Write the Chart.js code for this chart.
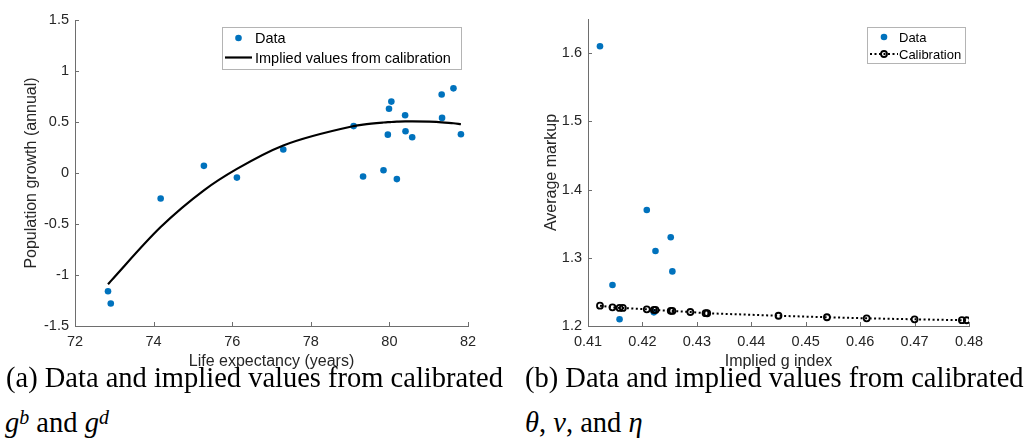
<!DOCTYPE html>
<html>
<head>
<meta charset="utf-8">
<script src="https://cdn.jsdelivr.net/npm/chart.js@4.4.1/dist/chart.umd.min.js"></script>
<style>
  html, body { margin: 0; padding: 0; background: #fff; }
  body { width: 1036px; height: 441px; position: relative; overflow: hidden; }
  canvas { position: absolute; top: 0; }
  #chartA { left: 0; }
  #chartB { left: 505px; }
  .cap {
    position: absolute;
    font-family: "Liberation Serif", "Times New Roman", serif;
    font-size: 28.5px;
    line-height: 28.5px;
    color: #000;
    white-space: nowrap;
  }
  .cap i { font-style: italic; }
  .cap .sup { position: relative; top: -0.42em; font-size: 0.7em; font-style: italic; }
</style>
</head>
<body>
<canvas id="chartA" width="505" height="372"></canvas>
<canvas id="chartB" width="531" height="372"></canvas>

<div class="cap" style="left:6px; top:364px;">(a) Data and implied values from calibrated</div>
<div class="cap" style="left:5px; top:409px;"><i>g</i><span class="sup">b</span> and <i>g</i><span class="sup">d</span></div>
<div class="cap" style="left:525px; top:364px;">(b) Data and implied values from calibrated</div>
<div class="cap" style="left:525px; top:409px;"><i>θ</i>, <i>ν</i>, and <i>η</i></div>

<script>
// =================== DATA: panel (a) ===================
const lifeExpectancy = [72.84, 72.91, 74.18, 75.28, 76.12, 77.30, 79.09, 79.33, 79.85, 79.96,
                        79.99, 80.05, 80.19, 80.40, 80.41, 80.58, 81.33, 81.34, 81.63, 81.82];
const popGrowth      = [-1.16, -1.28, -0.25, 0.07, -0.045, 0.23, 0.46, -0.035, 0.027, 0.376,
                        0.63, 0.70, -0.06, 0.566, 0.41, 0.35, 0.77, 0.54, 0.83, 0.38];
// implied values from calibration, read at the same life expectancies
const popGrowthImplied = [-1.09, -1.06, -0.53, -0.17, 0.04, 0.27, 0.46, 0.475, 0.495, 0.498,
                          0.499, 0.50, 0.503, 0.506, 0.506, 0.507, 0.497, 0.496, 0.488, 0.478];
const xTicksA = [72, 74, 76, 78, 80, 82];
const yTicksA = [-1.5, -1, -0.5, 0, 0.5, 1, 1.5];

// =================== DATA: panel (b) ===================
const gIndexData = [0.4122, 0.4145, 0.4158, 0.4208, 0.4221, 0.4224, 0.4252, 0.4255];
const markupData = [1.61, 1.26, 1.21, 1.37, 1.22, 1.31, 1.33, 1.28];
const gIndexCalib = [0.4122, 0.4145, 0.4158, 0.4164, 0.4208, 0.4221, 0.4224, 0.4252, 0.4255,
                     0.4288, 0.4316, 0.4319, 0.4450, 0.4539, 0.4612, 0.4700, 0.4787, 0.4796];
const markupCalib = [1.2298, 1.2274, 1.2265, 1.2265, 1.2245, 1.2236, 1.2235, 1.2222, 1.2221,
                     1.2205, 1.2188, 1.2187, 1.2150, 1.2128, 1.2113, 1.2098, 1.2085, 1.2084];
const xTicksB = [0.41, 0.42, 0.43, 0.44, 0.45, 0.46, 0.47, 0.48];
const yTicksB = [1.2, 1.3, 1.4, 1.5, 1.6];

// =================== STYLE ===================
const BLUE = '#0072BD';
const TEXT = '#262626';
const AXIS_LINE = '#6e6e6e';
const SANS = '"Liberation Sans", Arial, sans-serif';
const TICK_FONT = { family: SANS, size: 14.5 };
const TITLE_FONT = { family: SANS, size: 16 };

const toPoints = (xs, ys) => xs.map((x, i) => ({ x, y: ys[i] }));

function linearAxis(isX, ticks, min, max, title, fitSize, titlePad) {
  return {
    type: 'linear',
    position: isX ? 'bottom' : 'left',
    min, max,
    afterBuildTicks: s => { s.ticks = ticks.map(v => ({ value: v })); },
    afterFit: s => { if (isX) s.height = fitSize; else s.width = fitSize; },
    grid: { display: true, drawOnChartArea: false, drawTicks: false },
    border: { display: true, color: AXIS_LINE, width: 1 },
    ticks: {
      color: TEXT, font: TICK_FONT, padding: isX ? 7 : 6,
      autoSkip: false, maxRotation: 0, callback: v => String(v)
    },
    title: {
      display: true, text: title, color: TEXT, font: TITLE_FONT,
      padding: isX ? { top: 0, bottom: titlePad } : { top: titlePad, bottom: 0 }
    }
  };
}

// MATLAB-style ticks pointing into the plot
const inwardTicks = {
  id: 'inwardTicks',
  beforeDatasetsDraw(chart) {
    const { ctx, chartArea, scales: { x, y } } = chart;
    const len = 4;
    ctx.save();
    ctx.strokeStyle = AXIS_LINE;
    ctx.lineWidth = 1;
    ctx.beginPath();
    x.ticks.forEach(t => {
      const px = Math.round(x.getPixelForValue(t.value)) + 0.5;
      ctx.moveTo(px, chartArea.bottom);
      ctx.lineTo(px, chartArea.bottom - len);
    });
    y.ticks.forEach(t => {
      const py = Math.round(y.getPixelForValue(t.value)) + 0.5;
      ctx.moveTo(chartArea.left, py);
      ctx.lineTo(chartArea.left + len, py);
    });
    ctx.stroke();
    ctx.restore();
  }
};

// boxed legend inside the axes
const boxLegend = {
  id: 'boxLegend',
  afterDraw(chart, args, o) {
    const ctx = chart.ctx;
    ctx.save();
    ctx.fillStyle = '#fff';
    ctx.fillRect(o.left, o.top, o.width, o.height);
    ctx.strokeStyle = '#b4b4b4';
    ctx.lineWidth = 1;
    ctx.strokeRect(o.left + 0.5, o.top + 0.5, o.width, o.height);
    ctx.font = `${o.fontSize}px ${SANS}`;
    ctx.textBaseline = 'middle';
    o.rows.forEach(r => {
      const ds = chart.data.datasets[r.dataset];
      const cx = (o.sampleX0 + o.sampleX1) / 2;
      if (ds.showLine) {
        ctx.strokeStyle = ds.borderColor;
        ctx.lineWidth = ds.borderWidth;
        ctx.setLineDash(ds.borderDash || []);
        ctx.beginPath();
        ctx.moveTo(o.sampleX0, r.y);
        ctx.lineTo(o.sampleX1, r.y);
        ctx.stroke();
        ctx.setLineDash([]);
      }
      if (ds.pointRadius > 0) {
        ctx.beginPath();
        ctx.arc(cx, r.y, ds.pointRadius, 0, Math.PI * 2);
        if (ds.pointBackgroundColor && ds.pointBackgroundColor !== 'transparent') {
          ctx.fillStyle = ds.pointBackgroundColor;
          ctx.fill();
        }
        if (ds.pointBorderWidth > 0) {
          ctx.strokeStyle = ds.pointBorderColor;
          ctx.lineWidth = ds.pointBorderWidth;
          ctx.stroke();
        }
      }
      ctx.fillStyle = '#000';
      ctx.fillText(ds.label, o.textX, r.y + 1);
    });
    ctx.restore();
  }
};

// =================== PANEL (a) ===================
new Chart(document.getElementById('chartA'), {
  type: 'scatter',
  data: {
    datasets: [
      {
        label: 'Data',
        data: toPoints(lifeExpectancy, popGrowth),
        showLine: false,
        pointRadius: 3.3,
        pointBackgroundColor: BLUE,
        pointBorderWidth: 0,
        order: 2
      },
      {
        label: 'Implied values from calibration',
        data: toPoints(lifeExpectancy, popGrowthImplied),
        showLine: true,
        borderColor: '#000',
        borderWidth: 2.2,
        cubicInterpolationMode: 'monotone',
        pointRadius: 0,
        order: 1
      }
    ]
  },
  options: {
    responsive: false,
    animation: false,
    layout: { padding: { top: 20, right: 37, left: 0, bottom: 0 } },
    scales: {
      x: linearAxis(true, xTicksA, 72, 82, 'Life expectancy (years)', 46, 1),
      y: linearAxis(false, yTicksA, -1.5, 1.5, 'Population growth (annual)', 75, 22)
    },
    plugins: {
      legend: { display: false },
      tooltip: { enabled: false },
      boxLegend: {
        left: 222, top: 27, width: 239, height: 42, fontSize: 14.5,
        sampleX0: 225, sampleX1: 252, textX: 255,
        rows: [{ dataset: 0, y: 38 }, { dataset: 1, y: 57.5 }]
      }
    }
  },
  plugins: [inwardTicks, boxLegend]
});

// =================== PANEL (b) ===================
new Chart(document.getElementById('chartB'), {
  type: 'scatter',
  data: {
    datasets: [
      {
        label: 'Data',
        data: toPoints(gIndexData, markupData),
        showLine: false,
        pointRadius: 3.3,
        pointBackgroundColor: BLUE,
        pointBorderWidth: 0,
        order: 2
      },
      {
        label: 'Calibration',
        data: toPoints(gIndexCalib, markupCalib),
        showLine: true,
        borderColor: '#000',
        borderWidth: 2,
        borderDash: [2, 2.5],
        pointRadius: 3,
        pointBackgroundColor: 'transparent',
        pointBorderColor: '#000',
        pointBorderWidth: 1.8,
        order: 1
      }
    ]
  },
  options: {
    responsive: false,
    animation: false,
    layout: { padding: { top: 19, right: 67, left: 0, bottom: 0 } },
    scales: {
      x: linearAxis(true, xTicksB, 0.41, 0.48, 'Implied g index', 46, 1),
      y: linearAxis(false, yTicksB, 1.2, 1.65, 'Average markup', 83, 37)
    },
    plugins: {
      legend: { display: false },
      tooltip: { enabled: false },
      boxLegend: {
        left: 362, top: 27, width: 98, height: 36, fontSize: 13,
        sampleX0: 365, sampleX1: 393, textX: 394,
        rows: [{ dataset: 0, y: 37 }, { dataset: 1, y: 54 }]
      }
    }
  },
  plugins: [inwardTicks, boxLegend]
});
</script>
</body>
</html>
